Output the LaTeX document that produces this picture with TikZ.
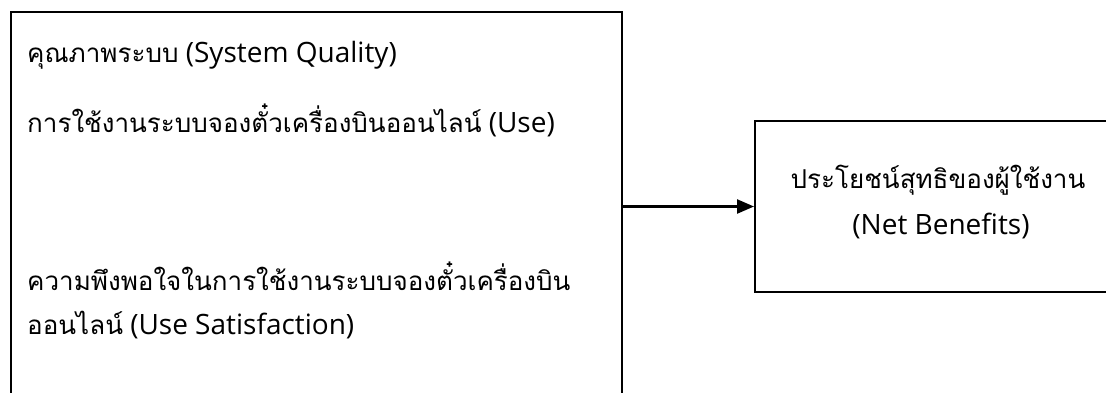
\documentclass[tikz,border=0pt]{standalone}
\usepackage{fontspec}
\setmainfont{Open Sans}
\newfontfamily\thaifont[Script=Thai]{Loma}
\newcommand{\thtxt}[1]{{\thaifont\fontsize{26}{30}\selectfont #1}}
\usetikzlibrary{arrows.meta}
\tikzset{
  box/.style={draw=black, line width=2pt, rectangle, inner sep=0pt},
  txt/.style={inner sep=0pt, font=\fontsize{28}{32}\selectfont},
  conn/.style={line width=2.4pt, -{Triangle[length=17pt,width=14pt]}}
}
\begin{document}
\begin{tikzpicture}[x=1pt,y=-1pt]
\clip (0,0) rectangle (1106,392);
\useasboundingbox (0,0) rectangle (1106,392);
\node[box, minimum width=611pt, minimum height=408pt] (L) at (316.5,216) {};
\node[box, minimum width=365pt, minimum height=171pt] (R) at (937.5,206.5) {};
\node[txt, anchor=base west] (l1) at (27,62) {\thtxt{คุณภาพระบบ} (System Quality)};
\node[txt, anchor=base west] (l2) at (27,132) {\thtxt{การใช้งานระบบจองตั๋วเครื่องบินออนไลน์} (Use)};
\node[txt, anchor=base west] (l3) at (27,290) {\thtxt{ความพึงพอใจในการใช้งานระบบจองตั๋วเครื่องบิน}};
\node[txt, anchor=base west] (l4) at (27,334) {\thtxt{ออนไลน์} (Use Satisfaction)};
\node[txt, anchor=base] (r1) at (938,188) {\thtxt{ประโยชน์สุทธิของผู้ใช้งาน}};
\node[txt, anchor=base] (r2) at (941,234) {(Net Benefits)};
\draw[conn] (L.east |- R.west) -- (R.west);
\end{tikzpicture}
\end{document}
